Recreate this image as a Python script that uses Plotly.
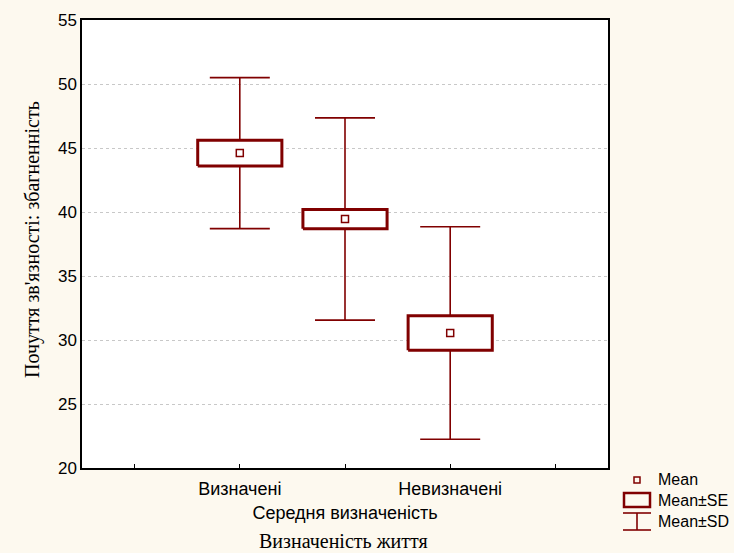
import plotly.graph_objects as go

# ---- data ----
categories = ["Визначені", "Середня визначеність", "Невизначені"]
means = [44.6, 39.45, 30.55]
se = [1.0, 0.75, 1.35]
sd = [5.9, 7.9, 8.3]
y_ticks = [20, 25, 30, 35, 40, 45, 50, 55]

RED = "#800000"
BG = "#FDF9EF"
SANS = "Liberation Sans, Arial, sans-serif"
SERIF = "Liberation Serif, Times New Roman, serif"

# layout geometry (pixels)
W_FIG, H_FIG = 734, 553
L, T, PW, PH = 82, 20, 526, 448
R = W_FIG - L - PW
B = H_FIG - T - PH

def px(x):
    return (x - L) / PW

def py(y):
    return (T + PH - y) / PH

BOX_HALF = 0.4

fig = go.Figure()

# whiskers (Mean ± SD)
fig.add_trace(go.Scatter(
    x=list(range(len(categories))), y=means, mode="markers",
    marker=dict(size=1, opacity=0),
    error_y=dict(type="data", array=sd, visible=True, color=RED, thickness=1.6, width=30),
    showlegend=False, hoverinfo="skip"))

# boxes (Mean ± SE)
for i, (m, s) in enumerate(zip(means, se)):
    fig.add_trace(go.Scatter(
        x=[i - BOX_HALF, i + BOX_HALF, i + BOX_HALF, i - BOX_HALF, i - BOX_HALF],
        y=[m - s, m - s, m + s, m + s, m - s],
        mode="lines", fill="toself", fillcolor="white",
        line=dict(color=RED, width=3), showlegend=False, hoverinfo="skip"))

# means
fig.add_trace(go.Scatter(
    x=list(range(len(categories))), y=means, mode="markers",
    marker=dict(symbol="square-open", size=7, color=RED, line=dict(width=1.5, color=RED)),
    showlegend=False))

tickvals = [-1, 0, 1, 2, 3]
ticktext = ["", categories[0], "<br>" + categories[1], categories[2], ""]

fig.update_layout(
    width=W_FIG, height=H_FIG,
    margin=dict(l=L, r=R, t=T, b=B, autoexpand=False),
    paper_bgcolor=BG, plot_bgcolor="white",
    showlegend=False,
    xaxis=dict(range=[-1.5, 3.5], tickvals=tickvals, ticktext=ticktext, tickangle=0,
               ticks="inside", ticklen=4, tickcolor="black", ticklabelstandoff=4,
               showgrid=False, zeroline=False, showline=True, linecolor="black",
               linewidth=1.5, mirror=True, automargin=False,
               tickfont=dict(family=SANS, size=18, color="black")),
    yaxis=dict(range=[20, 55], tickvals=y_ticks, ticks="", showgrid=True,
               gridcolor="#C8C8C8", griddash="dot", gridwidth=1, zeroline=False,
               showline=True, linecolor="black", linewidth=1.5, mirror=True, automargin=False,
               tickfont=dict(family=SANS, size=17, color="black")),
)

annotations = [
    dict(text="Визначеність життя", x=px(343), y=py(541), xref="paper", yref="paper",
         showarrow=False, font=dict(family=SERIF, size=20, color="black"),
         xanchor="center", yanchor="middle"),
    dict(text="Почуття зв'язності: збагненність", x=px(32), y=py(240), xref="paper", yref="paper",
         showarrow=False, textangle=-90, font=dict(family=SERIF, size=20, color="black"),
         xanchor="center", yanchor="middle"),
]
for label, yy in [("Mean", 480), ("Mean±SE", 500), ("Mean±SD", 521)]:
    annotations.append(dict(text=label, x=px(656), y=py(yy), xref="paper", yref="paper",
                            showarrow=False, xanchor="left", yanchor="middle",
                            font=dict(family=SANS, size=16, color="black")))
fig.update_layout(annotations=annotations)

shapes = [
    dict(type="rect", xref="paper", yref="paper", x0=px(634), x1=px(640), y0=py(477), y1=py(483),
         line=dict(color=RED, width=1.5)),
    dict(type="rect", xref="paper", yref="paper", x0=px(624), x1=px(650), y0=py(493), y1=py(507),
         line=dict(color=RED, width=2.5)),
    dict(type="line", xref="paper", yref="paper", x0=px(623), x1=px(651), y0=py(513), y1=py(513),
         line=dict(color=RED, width=1.6)),
    dict(type="line", xref="paper", yref="paper", x0=px(637), x1=px(637), y0=py(513), y1=py(530),
         line=dict(color=RED, width=1.6)),
    dict(type="line", xref="paper", yref="paper", x0=px(623), x1=px(651), y0=py(530), y1=py(530),
         line=dict(color=RED, width=1.6)),
]
fig.update_layout(shapes=shapes)

fig.write_html(
    "out.html",
    config={"displayModeBar": False},
    post_script="document.body.style.margin='0';document.body.style.padding='0';"
                "document.body.style.background='%s';document.body.style.overflow='hidden';" % BG,
)
